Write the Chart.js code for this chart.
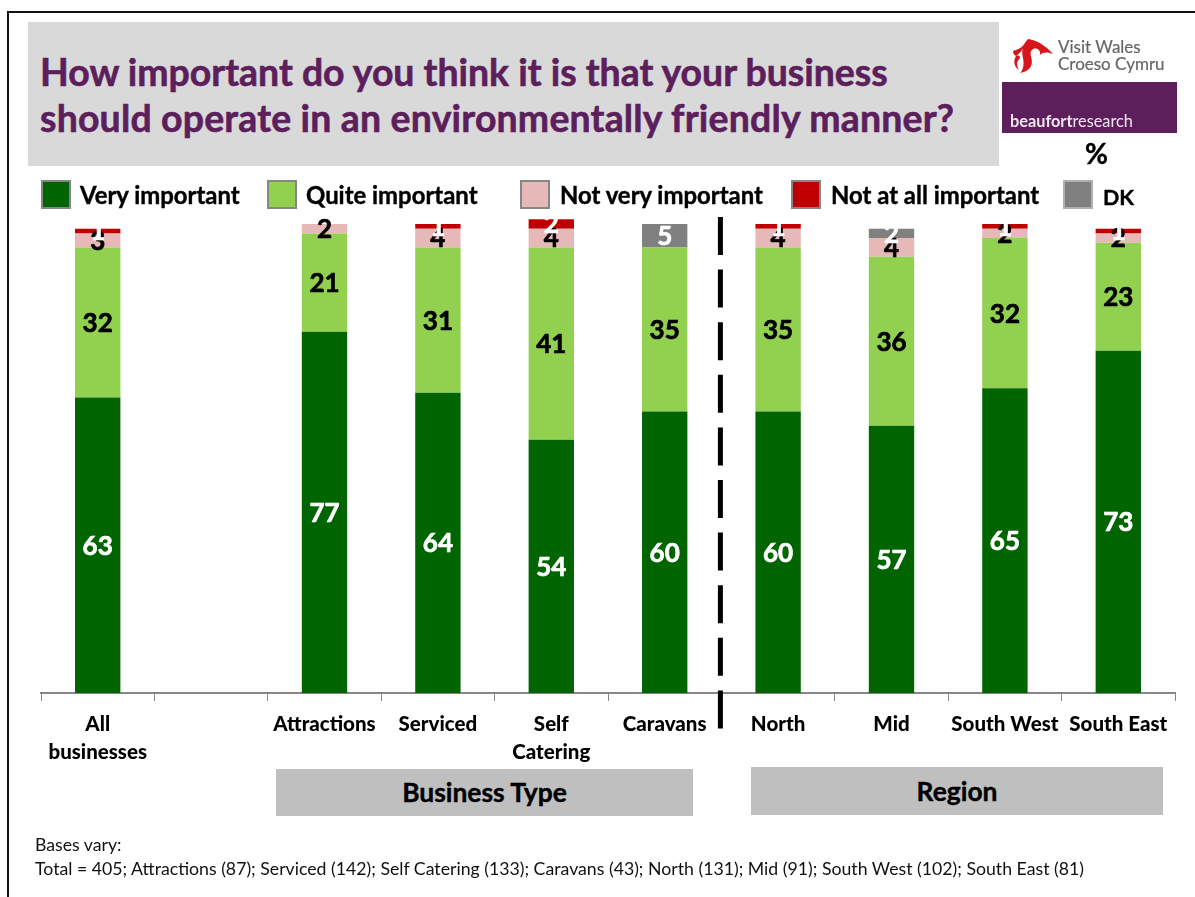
<!DOCTYPE html>
<html>
<head>
<meta charset="utf-8">
<title>Environmentally friendly operation</title>
<script src="https://cdn.jsdelivr.net/npm/chart.js@4"></script>
<style>
  html, body { margin: 0; padding: 0; background: #fff; }
  body { position: relative; width: 1195px; height: 897px; overflow: hidden; font-family: Lato, sans-serif; color: #000; }
  #chart { position: absolute; left: 0; top: 0; }
  .abs { position: absolute; white-space: nowrap; }
  #frame-top { left: 8px; top: 11px; width: 1187px; height: 2px; background: #111; }
  #frame-left { left: 7px; top: 11px; width: 2px; height: 886px; background: #111; }
  #title-box { left: 28px; top: 22px; width: 971px; height: 144px; background: #d9d9d9; }
  .title { left: 40px; font-weight: 700; font-size: 37.4px; line-height: 44px; color: #5c1f5c; -webkit-text-stroke: 0.6px #5c1f5c; }
  #brand-bar { left: 1002px; top: 82px; width: 175px; height: 51px; background: #5c1f5c; }
  #brand-text { left: 1010px; top: 112px; font-size: 16.3px; line-height: 18px; color: #f2e6f0; }
  .visit { left: 1058px; font-size: 17px; line-height: 18px; color: #666; -webkit-text-stroke: 0.2px #666; }
  #percent { left: 1085px; top: 137px; font-size: 28px; line-height: 32px; font-weight: 700; -webkit-text-stroke: 0.4px #000; }
  .swatch { border: 2px solid #868686; box-sizing: border-box; width: 30px; height: 29px; }
  .legend-text { font-size: 23.9px; line-height: 28px; font-weight: 700; -webkit-text-stroke: 0.4px #000; }
  .group { background: #bfbfbf; font-size: 26.4px; font-weight: 700; text-align: center; -webkit-text-stroke: 0.4px #000; }
  .note { left: 35px; font-size: 17.7px; line-height: 20px; color: #111; }
</style>
</head>
<body>
<canvas id="chart" width="1195" height="897"></canvas>

<div class="abs" id="frame-top"></div>
<div class="abs" id="frame-left"></div>

<div class="abs" id="title-box"></div>
<div class="abs title" style="top:50px">How important do you think it is that your business</div>
<div class="abs title" style="top:96px;letter-spacing:0.2px">should operate in an environmentally friendly manner?</div>

<!-- Visit Wales mark -->
<svg class="abs" style="left:1010px;top:36px" width="46" height="38" viewBox="0 0 46 38">
  <path d="M18 3 C26 4 35 9 43 18 C38 16 33 16 30 19 C31 13 25 11 22 14 C18 18 24 23 21 30 C19 34 15 36 10 37 C14 33 14 27 13 22 C11 14 13 8 18 3 Z" fill="#d8141c"/>
  <path d="M3 15 C7 14 12 12 15 7 C13 14 10 17 6 20 C9 19 10 20 10 22 C7 25 6 29 9 34 C4 31 3 25 6 20 C4 19 3 17 3 15 Z" fill="#d8141c"/>
</svg>
<div class="abs visit" style="top:38px">Visit Wales</div>
<div class="abs visit" style="top:55px">Croeso Cymru</div>
<div class="abs" id="brand-bar"></div>
<div class="abs" id="brand-text"><b>beaufort</b>research</div>
<div class="abs" id="percent">%</div>

<div id="legend"></div>

<div class="abs group" style="left:276px;top:769px;width:417px;height:47px;line-height:47px">Business Type</div>
<div class="abs group" style="left:751px;top:767px;width:412px;height:48px;line-height:48px">Region</div>

<div class="abs note" style="top:835px">Bases vary:</div>
<div class="abs note" style="top:859px">Total = 405; Attractions (87); Serviced (142); Self Catering (133); Caravans (43); North (131); Mid (91); South West (102); South East (81)</div>

<script>
// Survey results, % of respondents in each group
const categories = [['All', 'businesses'], '', 'Attractions', 'Serviced', ['Self', 'Catering'], 'Caravans', 'North', 'Mid', 'South West', 'South East'];

const veryImportant = [63, null, 77, 64, 54, 60, 60, 57, 65, 73];
const quiteImportant = [32, null, 21, 31, 41, 35, 35, 36, 32, 23];
const notVeryImportant = [3, null, 2, 4, 4, null, 4, 4, 2, 2];
const notAtAllImportant = [1, null, null, 1, 2, null, 1, null, 1, 1];
const dontKnow = [null, null, null, null, null, 5, null, 2, null, null];

const seriesNames = ['Very important', 'Quite important', 'Not very important', 'Not at all important', 'DK'];
const seriesColors = ['#006400', '#92d050', '#e6b8b7', '#c00000', '#808080'];
const labelColors = ['#fff', '#000', '#000', '#fff', '#fff'];
const seriesValues = [veryImportant, quiteImportant, notVeryImportant, notAtAllImportant, dontKnow];

// Legend keys sit at hand-placed spots along the top of the plot
const legendSwatchX = [41, 267, 520, 791, 1063];
const legendTextX = [80, 306, 560, 831, 1103];

const legend = document.getElementById('legend');
seriesNames.forEach((name, i) => {
  const swatch = document.createElement('div');
  swatch.className = 'abs swatch';
  swatch.style.left = legendSwatchX[i] + 'px';
  swatch.style.top = '180px';
  swatch.style.background = seriesColors[i];
  if (i === 4) swatch.style.borderColor = '#b0b0b0';
  legend.appendChild(swatch);
  const text = document.createElement('div');
  text.className = 'abs legend-text';
  text.style.left = legendTextX[i] + 'px';
  text.style.top = i === 4 ? '183px' : '181px';
  if (i === 4) text.style.fontSize = '21.5px';
  text.textContent = name;
  legend.appendChild(text);
});

// Value labels, centred on each stacked segment
const segmentLabels = {
  id: 'segmentLabels',
  afterDatasetsDraw(chart) {
    const ctx = chart.ctx;
    ctx.save();
    ctx.font = '700 26px Lato, sans-serif';
    ctx.textAlign = 'center';
    ctx.textBaseline = 'middle';
    ctx.lineWidth = 0.7;
    chart.data.datasets.forEach((ds, d) => {
      chart.getDatasetMeta(d).data.forEach((bar, i) => {
        if (ds.data[i] == null) return;
        const mid = bar.getCenterPoint();
        ctx.fillStyle = labelColors[d];
        ctx.strokeStyle = labelColors[d];
        ctx.fillText(ds.data[i], mid.x, mid.y + 1);
        ctx.strokeText(ds.data[i], mid.x, mid.y + 1);
      });
    });
    ctx.restore();
  }
};

// Dashed divider between the business types and the regions
const groupDivider = {
  id: 'groupDivider',
  afterDraw(chart) {
    const ctx = chart.ctx;
    const x = chart.scales.x.getPixelForValue(5.5) - 1;
    ctx.save();
    ctx.strokeStyle = '#000';
    ctx.lineWidth = 5;
    ctx.setLineDash([38, 14.6]);
    ctx.beginPath();
    ctx.moveTo(x, 217);
    ctx.lineTo(x, 729);
    ctx.stroke();
    ctx.restore();
  }
};

new Chart(document.getElementById('chart').getContext('2d'), {
  type: 'bar',
  plugins: [segmentLabels, groupDivider],
  data: {
    labels: categories,
    datasets: seriesNames.map((name, i) => ({
      label: name,
      data: seriesValues[i],
      backgroundColor: seriesColors[i],
      categoryPercentage: 1,
      barPercentage: 0.4,
      clip: false
    }))
  },
  options: {
    responsive: false,
    animation: false,
    layout: { padding: { left: 41, right: 20, top: 224, bottom: 0 } },
    plugins: { legend: { display: false }, tooltip: { enabled: false } },
    scales: {
      x: {
        stacked: true,
        afterFit: scale => { scale.height = 204; },
        border: { color: '#868686', width: 2 },
        grid: { drawOnChartArea: false, offset: true, color: '#868686', tickLength: 8, tickWidth: 1 },
        ticks: {
          autoSkip: false,
          maxRotation: 0,
          minRotation: 0,
          padding: 9,
          color: '#000',
          font: { family: 'Lato, sans-serif', size: 20.5, weight: '900', lineHeight: 1.37 }
        }
      },
      y: { stacked: true, display: false, min: 0, max: 100 }
    }
  }
});
</script>
</body>
</html>
